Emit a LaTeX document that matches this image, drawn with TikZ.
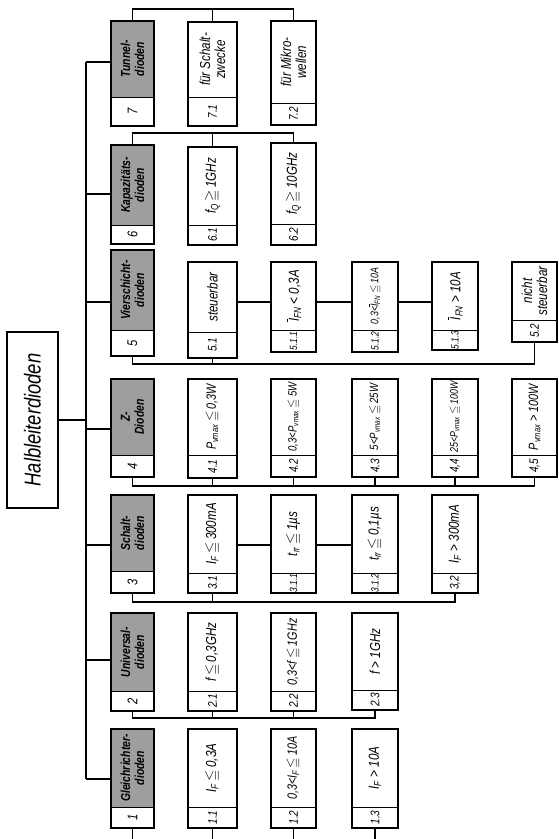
\documentclass[tikz,border=0pt]{standalone}
\usepackage{fontspec}
\setmainfont{Liberation Sans}[FakeStretch=0.8]
\usepackage{amssymb}
\usetikzlibrary{fit}
\newcommand\Ibar{$\overline{\mbox{\itshape I}}$}
\newcommand\myle{\,$\leqq$\,}
\newcommand\myge{\,$\geqq$\,}
\newcommand\xstxt{\fontsize{11}{12}\selectfont}
\newcommand\smtxt{\fontsize{12}{13}\selectfont}
\newcommand\mdtxt{\fontsize{13.5}{14}\selectfont}
\newcommand\smnum{\fontsize{10.5}{12}\selectfont}
\tikzset{
  boxst/.style={draw, line width=1.4pt, inner sep=0pt},
  sepline/.style={line width=1pt},
  con/.style={line width=1.1pt},
  txt/.style={rotate=90, align=center, inner sep=0pt, font=\fontsize{14.5}{15}\selectfont\itshape},
  numt/.style={rotate=90, inner sep=0pt, font=\fontsize{12.5}{13}\selectfont\itshape},
  ctxt/.style={rotate=90, align=center, inner sep=0pt, font=\fontsize{13}{14}\selectfont\bfseries\itshape},
  cnum/.style={rotate=90, inner sep=0pt, font=\fontsize{14}{15}\selectfont\itshape},
  catfill/.style={fill=black!38},
}
% child box: name, xl, xr, ytop, ybottom, ycell, text, number
\newcommand\dbox[8]{%
  \node[boxst, fit={(#2,-#4) (#3,-#5)}] (#1) {};
  \draw[sepline] (#2,-#6) -- (#3,-#6);
  \node[txt] (#1t) at ({(#2+#3)/2},{-(#4+#6)/2}) {#7};
  \node[numt] (#1n) at ({(#2+#3)/2},{-(#6+#5)/2}) {#8};
}
% category box
\newcommand\cbox[8]{%
  \fill[catfill] (#2,-#4) rectangle (#3,-#6);
  \node[boxst, fit={(#2,-#4) (#3,-#5)}] (#1) {};
  \draw[sepline] (#2,-#6) -- (#3,-#6);
  \node[ctxt] (#1t) at ({(#2+#3)/2},{-(#4+#6)/2}) {#7};
  \node[cnum] (#1n) at ({(#2+#3)/2},{-(#6+#5)/2}) {#8};
}
\begin{document}
\begin{tikzpicture}[x=1pt,y=1pt]
\fill[white] (0,0) rectangle (558,-839);
\useasboundingbox (0,0) rectangle (558,-839);
\clip (0,0) rectangle (558,-839);

% root
\node[boxst, line width=1.3pt, fit={(7,-332) (58,-508)}] (root) {};
\node[rotate=90, inner sep=0pt, font=\fontsize{23}{26}\selectfont\itshape] (roott) at (root.center) {Halbleiterdioden};

% categories
\cbox{c7}{111}{154}{21}{126}{97}{Tunnel-\\dioden}{7}
\cbox{c6}{111}{154}{145}{244}{225}{Kapazitäts-\\dioden}{6}
\cbox{c5}{111}{154}{250}{356}{330}{Vierschicht-\\dioden}{5}
\cbox{c4}{111}{154}{379}{477}{455}{Z-\\Dioden}{4}
\cbox{c3}{111}{154}{495}{593}{571}{Schalt-\\dioden}{3}
\cbox{c2}{111}{154}{613}{711}{691}{Universal-\\dioden}{2}
\cbox{c1}{111}{154}{729}{828}{807}{Gleichrichter-\\dioden}{1}

% column B
\dbox{b71}{188}{237}{22}{126}{97}{für Schalt-\\zwecke}{7.1}
\dbox{b61}{188}{237}{147}{245}{225}{f\textsubscript{Q}\myge 1GHz}{6.1}
\dbox{b51}{188}{237}{262}{358}{332}{steuerbar}{5.1}
\dbox{b41}{188}{237}{379}{478}{455}{\mdtxt P\textsubscript{vmax}\myle 0,3W}{4.1}
\dbox{b31}{188}{237}{495}{593}{573}{I\textsubscript{F}\myle 300mA}{3.1}
\dbox{b21}{188}{237}{613}{711}{691}{f\myle 0,3GHz}{2.1}
\dbox{b11}{188}{237}{729}{828}{807}{I\textsubscript{F}\myle 0,3A}{1.1}

% column C
\dbox{b72}{271}{316}{21}{125}{103}{für Mikro-\\wellen}{7.2}
\dbox{b62}{271}{316}{143}{245}{224}{f\textsubscript{Q}\myge 10GHz}{6.2}
\dbox{b511}{271}{316}{262}{352}{330}{\Ibar\textsubscript{FN} < 0,3A}{\smnum 5.1.1}
\dbox{b42}{271}{316}{379}{477}{455}{\smtxt 0,3<P\textsubscript{vmax}\myle 5W}{4.2}
\dbox{b311}{271}{316}{495}{593}{573}{t\textsubscript{rr}\myle 1µs}{\smnum 3.1.1}
\dbox{b22}{271}{316}{613}{711}{691}{\mdtxt 0,3<f\myle 1GHz}{2.2}
\dbox{b12}{271}{316}{729}{828}{807}{\mdtxt 0,3<I\textsubscript{F}\myle 10A}{1.2}

% column D
\dbox{b512}{352}{398}{262}{352}{330}{\xstxt 0,3<\Ibar\textsubscript{FN}\myle 10A}{\smnum 5.1.2}
\dbox{b43}{352}{398}{379}{477}{455}{\smtxt 5<P\textsubscript{vmax}\myle 25W}{4.3}
\dbox{b312}{352}{398}{495}{593}{573}{t\textsubscript{rr}\myle 0,1µs}{\smnum 3.1.2}
\dbox{b23}{352}{398}{613}{710}{690}{f > 1GHz}{2.3}
\dbox{b13}{352}{398}{729}{828}{807}{I\textsubscript{F} > 10A}{1.3}

% column E
\dbox{b513}{432}{478}{262}{350}{330}{\Ibar\textsubscript{FN} > 10A}{\smnum 5.1.3}
\dbox{b44}{432}{478}{379}{477}{455}{\xstxt 25<P\textsubscript{vmax}\myle 100W}{4,4}
\dbox{b32}{432}{478}{495}{593}{573}{I\textsubscript{F} > 300mA}{3,2}

% column F
\dbox{b52}{512}{557}{262}{342}{320}{nicht\\steuerbar}{5.2}
\dbox{b45}{512}{557}{379}{477}{455}{\mdtxt P\textsubscript{vmax} > 100W}{4,5}

% trunk
\coordinate (t7) at (86,-62);
\coordinate (t6) at (86,-194);
\coordinate (t5) at (86,-302);
\coordinate (t4) at (86,-429);
\coordinate (t3) at (86,-545);
\coordinate (t2) at (86,-660);
\coordinate (t1) at (86,-779);
\draw[con] (t7) -- (t1);
\draw[con] (root.east) -- (root.east -| t7);
\foreach \i in {1,...,7} { \draw[con] (t\i) -- (t\i -| c\i.west); }

% group 7 (top bus)
\coordinate (g7) at (0,-9);
\draw[con] (c7.north) -- (c7.north |- g7) -- (b72.north |- g7) -- (b72.north);
\draw[con] (b71.north) -- (b71.north |- g7);

% group 6 (top bus)
\coordinate (g6) at (0,-133);
\draw[con] (c6.north) -- (c6.north |- g6) -- (b62.north |- g6) -- (b62.north);
\draw[con] (b61.north) -- (b61.north |- g6);

% group 5 (bottom bus)
\coordinate (g5) at (0,-364);
\draw[con] (c5.south) -- (c5.south |- g5) -- (b52.south |- g5) -- (b52.south);
\draw[con] (b51.south) -- (b51.south |- g5);
\coordinate (h5) at (0,-302);
\draw[con] (b51.east |- h5) -- (b511.west |- h5);
\draw[con] (b511.east |- h5) -- (b512.west |- h5);
\draw[con] (b512.east |- h5) -- (b513.west |- h5);

% group 4 (bottom bus)
\coordinate (g4) at (0,-486);
\draw[con] (c4.south) -- (c4.south |- g4) -- (b45.south |- g4) -- (b45.south);
\foreach \n in {b41,b42,b43,b44} { \draw[con] (\n.south) -- (\n.south |- g4); }

% group 3 (bottom bus)
\coordinate (g3) at (0,-602);
\draw[con] (c3.south) -- (c3.south |- g3) -- (b32.south |- g3) -- (b32.south);
\draw[con] (b31.south) -- (b31.south |- g3);
\coordinate (h3) at (0,-545);
\draw[con] (b31.east |- h3) -- (b311.west |- h3);
\draw[con] (b311.east |- h3) -- (b312.west |- h3);

% group 2 (bottom bus)
\coordinate (g2) at (0,-718);
\draw[con] (c2.south) -- (c2.south |- g2) -- (b23.south |- g2) -- (b23.south);
\foreach \n in {b21,b22} { \draw[con] (\n.south) -- (\n.south |- g2); }

% group 1 (bottom bus, below the edge)
\coordinate (g1) at (0,-843);
\draw[con] (c1.south) -- (c1.south |- g1) -- (b13.south |- g1) -- (b13.south);
\foreach \n in {b11,b12} { \draw[con] (\n.south) -- (\n.south |- g1); }
\end{tikzpicture}
\end{document}
